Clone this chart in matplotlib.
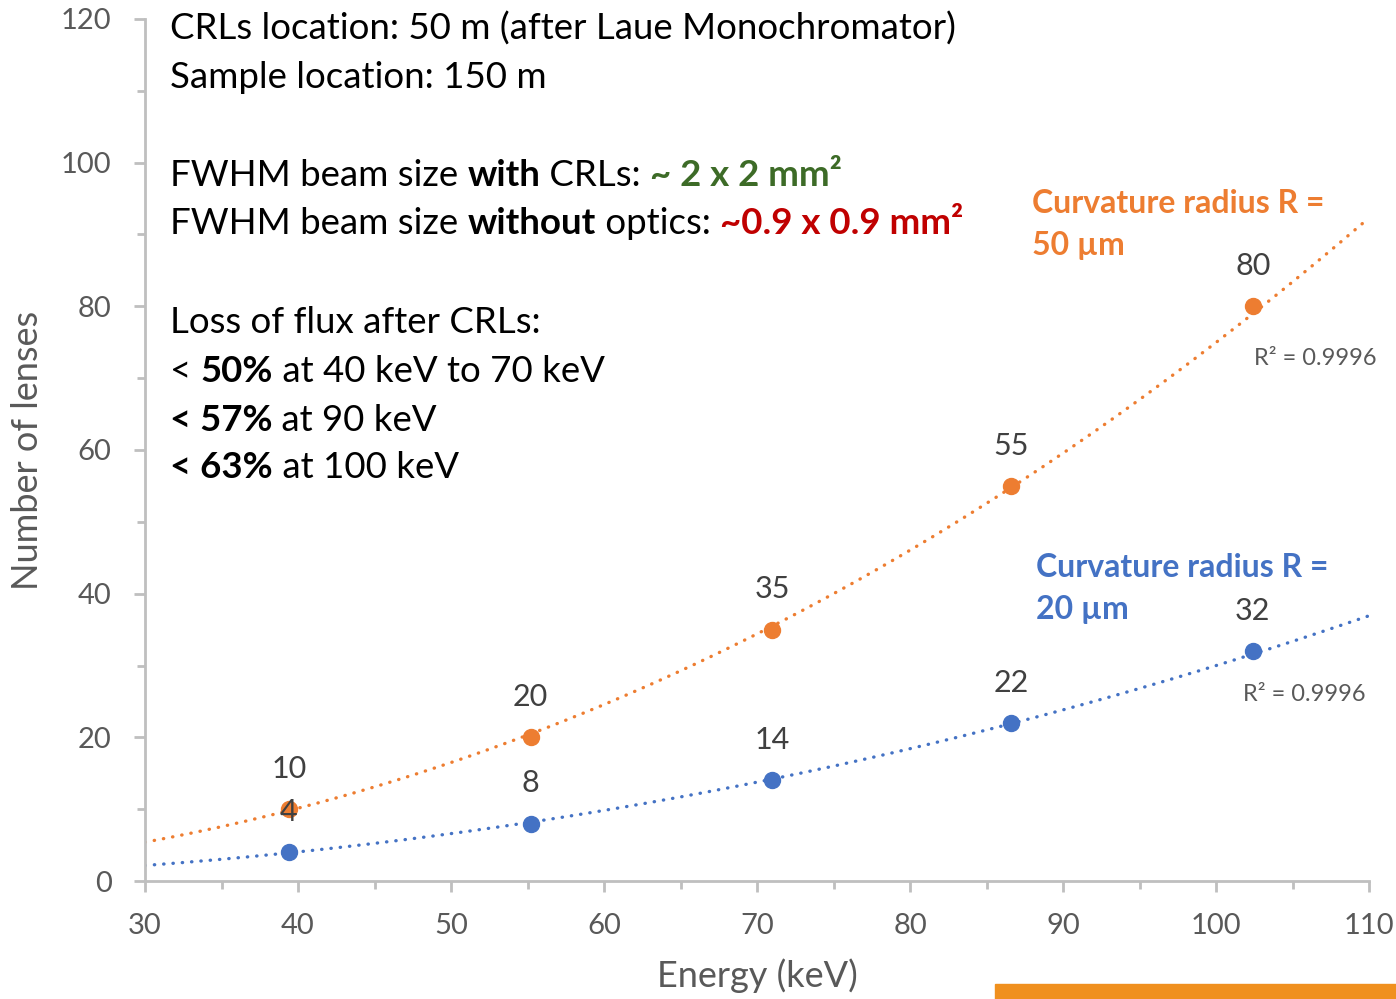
import numpy as np
import matplotlib
matplotlib.use("Agg")
import matplotlib.pyplot as plt
from matplotlib.patches import Rectangle
from matplotlib.ticker import MultipleLocator

plt.rcParams['font.family'] = ['Lato', 'DejaVu Sans']

# data
energy = [39.4, 55.2, 71.0, 86.6, 102.4]
lenses_50um = [10, 20, 35, 55, 80]
lenses_20um = [4, 8, 14, 22, 32]

ORANGE = '#ED7D31'
BLUE = '#4472C4'
GRAY = '#595959'
AXCOL = '#BFBFBF'

fig = plt.figure(figsize=(13.96, 9.99), dpi=100)
ax = fig.add_axes([0.1039, 0.1181, 0.8768, 0.8629])

# power-law trendlines (fit in log-log space, like a spreadsheet trendline)
xs = np.linspace(30, 110, 200)
for y, col in [(lenses_50um, ORANGE), (lenses_20um, BLUE)]:
    b, lna = np.polyfit(np.log(energy), np.log(y), 1)
    ax.plot(xs, np.exp(lna) * xs ** b, color=col, ls=(0, (0.1, 2.7)), lw=2.4,
            dash_capstyle='round', zorder=2)
    ax.plot(energy, y, 'o', color=col, ms=11.5, zorder=3)
    for xv, yv in zip(energy, y):
        ax.annotate(str(yv), (xv, yv), xytext=(0, 29), textcoords='offset points',
                    ha='center', va='center', fontsize=22, color='#404040', zorder=4)

ax.set_xlim(30, 110)
ax.set_ylim(0, 120)
ax.xaxis.set_major_locator(MultipleLocator(10))
ax.xaxis.set_minor_locator(MultipleLocator(5))
ax.yaxis.set_major_locator(MultipleLocator(20))
ax.yaxis.set_minor_locator(MultipleLocator(10))
for s in ['top', 'right']:
    ax.spines[s].set_visible(False)
for s in ['left', 'bottom']:
    ax.spines[s].set_color(AXCOL)
    ax.spines[s].set_linewidth(2)
ax.tick_params(which='major', length=8, width=2, color=AXCOL, labelsize=21,
               labelcolor=GRAY)
ax.tick_params(which='minor', length=6, width=2, color=AXCOL)
ax.tick_params(axis='x', which='major', pad=15)
ax.tick_params(axis='y', which='major', pad=16)

ax.set_xlabel('Energy (keV)', fontsize=26, color=GRAY, labelpad=14)
ax.set_ylabel('Number of lenses', fontsize=26, color=GRAY, labelpad=12)

# series captions, one text per line
for xt, yt, txt, col in [(88.0, 94.3, 'Curvature radius R =', ORANGE),
                         (88.0, 88.5, '50 µm', ORANGE),
                         (88.2, 43.6, 'Curvature radius R =', BLUE),
                         (88.2, 37.8, '20 µm', BLUE)]:
    ax.text(xt, yt, txt, color=col, fontsize=23, fontweight='bold', va='center')
ax.text(106.5, 72.8, 'R² = 0.9996', color=GRAY, fontsize=17, ha='center', va='center')
ax.text(105.75, 26.0, 'R² = 0.9996', color=GRAY, fontsize=17, ha='center', va='center')

# info block, pieces chained so that bold/colour can change inside a line
lines = [
    [('CRLs location: 50 m (after Laue Monochromator)', 'normal', 'black')],
    [('Sample location: 150 m', 'normal', 'black')],
    [('FWHM beam size ', 'normal', 'black'), ('with', 'bold', 'black'),
     (' CRLs: ', 'normal', 'black'), ('~ 2 x 2 mm²', 'bold', '#3D6B27')],
    [('FWHM beam size ', 'normal', 'black'), ('without', 'bold', 'black'),
     (' optics: ', 'normal', 'black'), ('~0.9 x 0.9 mm²', 'bold', '#C00000')],
    [('Loss of flux after CRLs:', 'normal', 'black')],
    [('< ', 'normal', 'black'), ('50%', 'bold', 'black'),
     (' at 40 keV to 70 keV', 'normal', 'black')],
    [('< 57%', 'bold', 'black'), (' at 90 keV', 'normal', 'black')],
    [('< 63%', 'bold', 'black'), (' at 100 keV', 'normal', 'black')],
]
line_y = [29, 78, 176, 223, 323, 371, 420, 468]
for parts, yp in zip(lines, line_y):
    last = None
    for txt, w, c in parts:
        if last is None:
            last = fig.text(170 / 1396, 1 - yp / 999, txt, fontsize=26.4, fontweight=w,
                            color=c, ha='left', va='center')
        else:
            last = ax.annotate(txt, xy=(1, 0), xycoords=last, fontsize=26.4, fontweight=w,
                               color=c, ha='left', va='bottom')

fig.patches.append(Rectangle((995 / 1396, 0), 1 - 995 / 1396, 15 / 999,
                             transform=fig.transFigure, color='#F0901E', zorder=5))

fig.savefig('out.png', dpi=100)
